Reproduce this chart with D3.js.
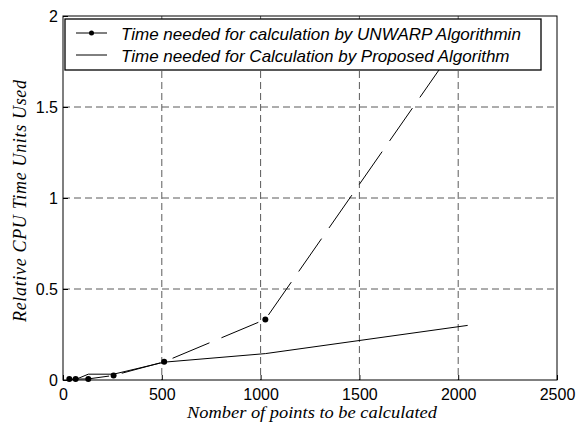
<!DOCTYPE html>
<html>
<head>
<meta charset="utf-8">
<script src="https://cdn.jsdelivr.net/npm/d3@7"></script>
<style>
  html, body { margin: 0; padding: 0; background: #fff; }
  svg { display: block; }
</style>
</head>
<body>
<svg id="chart" width="576" height="425"></svg>
<script>
// Number of points evaluated
const points = [32, 64, 128, 256, 512, 1024, 2048];
// Relative CPU time, UNWARP algorithm
const unwarpTimes = [0.005, 0.005, 0.006, 0.025, 0.1, 0.333, 1.93];
// Relative CPU time, proposed algorithm
const proposedTimes = [0.003, 0.003, 0.032, 0.032, 0.098, 0.145, 0.30];

const xTicks = [0, 500, 1000, 1500, 2000, 2500];
const yTicks = [0, 0.5, 1, 1.5, 2];
const xTickLabels = ["0", "500", "1000", "1500", "2000", "2500"];
const yTickLabels = ["0", "0.5", "1", "1.5", "2"];

const seriesNames = [
  "Time needed for calculation by UNWARP Algorithmin",
  "Time needed for Calculation by Proposed Algorithm"
];
const xTitle = "Nomber of points to be calculated";
const yTitle = "Relative CPU Time Units Used";

const svg = d3.select("#chart");
const m = { left: 63, right: 557, top: 16, bottom: 380 };

const x = d3.scaleLinear().domain([0, 2500]).range([m.left, m.right]);
const y = d3.scaleLinear().domain([0, 2]).range([m.bottom, m.top]);

const sans = "'Liberation Sans', Arial, sans-serif";
const serif = "'Liberation Serif', 'Times New Roman', serif";

// dashed grid
const grid = svg.append("g").attr("stroke", "#5a5a5a").attr("stroke-width", 1)
  .attr("stroke-dasharray", "7,4").attr("fill", "none");
grid.selectAll("line.v").data(xTicks.slice(1, -1)).join("line")
  .attr("x1", d => x(d)).attr("x2", d => x(d))
  .attr("y1", m.top).attr("y2", m.bottom);
grid.selectAll("line.h").data(yTicks.slice(1, -1)).join("line")
  .attr("x1", m.left).attr("x2", m.right)
  .attr("y1", d => y(d)).attr("y2", d => y(d));

// axes with inward ticks
const xAxis = d3.axisBottom(x).tickValues(xTicks).tickSizeInner(-5).tickSizeOuter(0)
  .tickFormat((d, i) => xTickLabels[i]).tickPadding(9);
const yAxis = d3.axisLeft(y).tickValues(yTicks).tickSizeInner(-5).tickSizeOuter(0)
  .tickFormat((d, i) => yTickLabels[i]).tickPadding(5);

const gx = svg.append("g").attr("transform", `translate(0,${m.bottom})`).call(xAxis);
const gy = svg.append("g").attr("transform", `translate(${m.left},0)`).call(yAxis);
[gx, gy].forEach(g => {
  g.select(".domain").remove();
  g.selectAll("line").attr("stroke", "#000");
  g.selectAll("text").attr("font-family", sans).attr("font-size", 16).attr("fill", "#000");
});

// frame
svg.append("rect")
  .attr("x", m.left).attr("y", m.top)
  .attr("width", m.right - m.left).attr("height", m.bottom - m.top)
  .attr("fill", "none").attr("stroke", "#000").attr("stroke-width", 1);

const line = d3.line().x(d => x(d[0])).y(d => y(d[1]));
const plot = svg.append("g");

// proposed algorithm: solid line
plot.append("path")
  .datum(points.map((p, i) => [p, proposedTimes[i]]))
  .attr("d", line).attr("fill", "none").attr("stroke", "#000").attr("stroke-width", 1);

// UNWARP: long-dashed line with dot markers
const unwarpData = points.map((p, i) => [p, unwarpTimes[i]]);
plot.append("path")
  .datum(unwarpData)
  .attr("d", line).attr("fill", "none").attr("stroke", "#000").attr("stroke-width", 1)
  .attr("stroke-dasharray", "40,13");
plot.selectAll("circle").data(unwarpData).join("circle")
  .attr("cx", d => x(d[0])).attr("cy", d => y(d[1])).attr("r", 3).attr("fill", "#000");

// legend
const lg = svg.append("g");
lg.append("rect").attr("x", 65).attr("y", 19).attr("width", 476).attr("height", 51)
  .attr("fill", "#fff").attr("stroke", "#000").attr("stroke-width", 1.3);
const rows = [33, 55];
rows.forEach((ry, i) => {
  lg.append("line").attr("x1", 76).attr("x2", 107).attr("y1", ry).attr("y2", ry)
    .attr("stroke", "#000").attr("stroke-width", 1);
  if (i === 0) lg.append("circle").attr("cx", 91.5).attr("cy", ry).attr("r", 2.5).attr("fill", "#000");
  lg.append("text").attr("x", 121).attr("y", ry + 6.5)
    .attr("font-family", sans).attr("font-style", "italic").attr("font-size", 17)
    .attr("fill", "#000").text(seriesNames[i]);
});

// axis titles
svg.append("text").attr("x", 312).attr("y", 418).attr("text-anchor", "middle")
  .attr("font-family", serif).attr("font-style", "italic").attr("font-size", 17.5)
  .attr("textLength", 250).attr("lengthAdjust", "spacingAndGlyphs")
  .attr("fill", "#000").text(xTitle);
svg.append("text").attr("transform", "translate(26,201) rotate(-90)")
  .attr("text-anchor", "middle")
  .attr("font-family", serif).attr("font-style", "italic").attr("font-size", 18)
  .attr("textLength", 242).attr("lengthAdjust", "spacing")
  .attr("fill", "#000").text(yTitle);
</script>
</body>
</html>
